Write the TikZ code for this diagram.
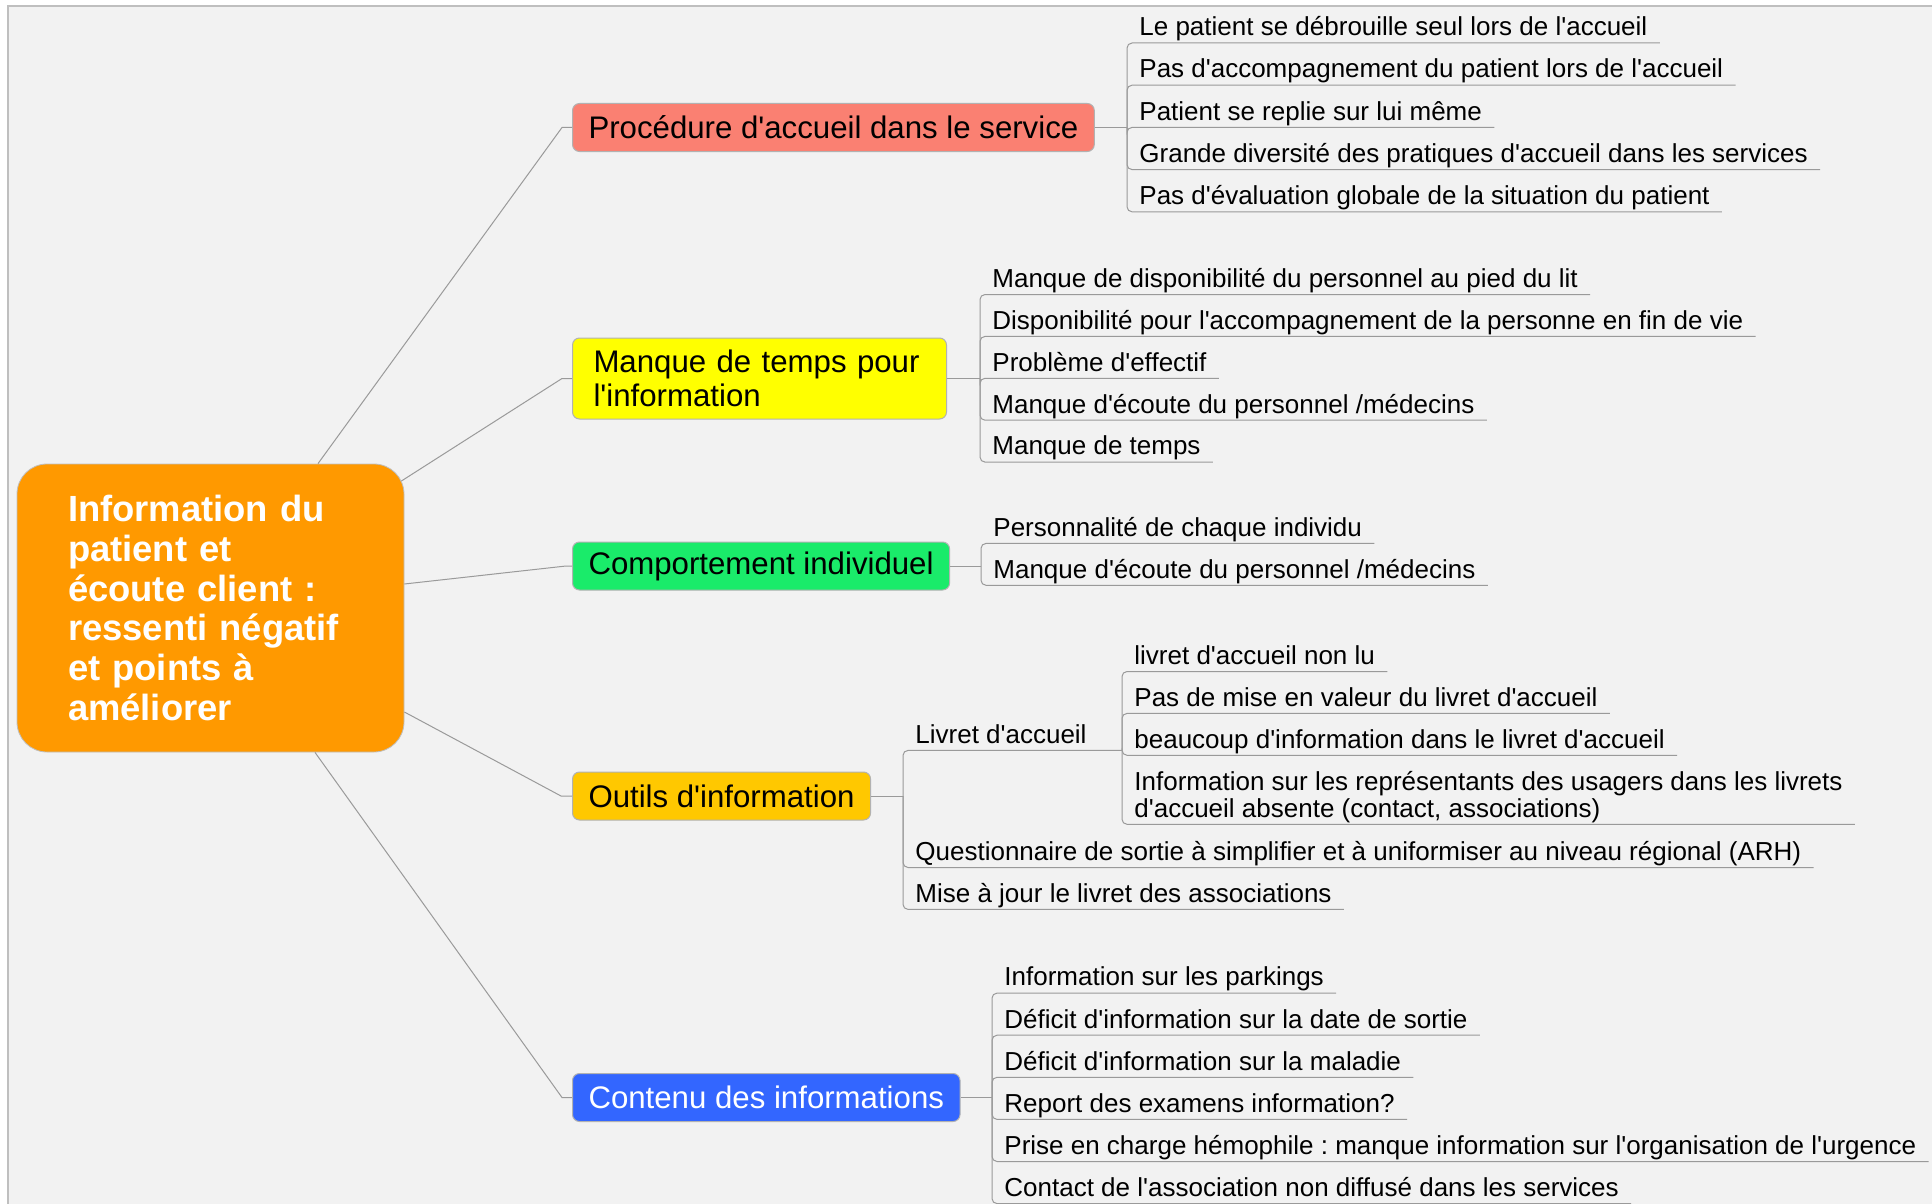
\documentclass[tikz,border=0pt]{standalone}
\usepackage{fontspec}
\setmainfont{Liberation Sans}[Ligatures=TeXOff]
\usetikzlibrary{calc,positioning}
\definecolor{bgray}{HTML}{F2F2F2}
\definecolor{lgray}{HTML}{9A9A9A}
\definecolor{rootorange}{HTML}{FF9900}
\definecolor{procred}{HTML}{FA8072}
\definecolor{manqyellow}{HTML}{FFFF00}
\definecolor{compgreen}{HTML}{1AEB6A}
\definecolor{outigold}{HTML}{FFC800}
\definecolor{contblue}{HTML}{3366FF}
\frenchspacing

\begin{document}
\begin{tikzpicture}[x=0.5pt, y=-0.5pt,
    link/.style={lgray, line width=0.5pt},
    rc/.style={link, rounded corners=2.5pt},
    branch/.style={draw=black!30, line width=0.5pt, rounded corners=3.5pt, anchor=west,
        inner xsep=8pt, minimum height=24pt, font=\fontsize{15.6}{17.2}\selectfont},
    leaf/.style={anchor=south west, inner xsep=6pt, inner ysep=0.8pt, text depth=2.6pt,
        font=\fontsize{13}{13.5}\selectfont}]
        \useasboundingbox (0,0) rectangle (1932,1204);
        \fill[white] (0,0) rectangle (1932,1204);
        \fill[bgray] (8,6) rectangle (1932,1204);
        \draw[black!25, line width=1pt] (8,1204) -- (8,6) -- (1932,6);

        % central topic
        \node[draw=black!25, fill=rootorange, rounded corners=15pt, minimum width=193.5pt, minimum height=144pt,
            text width=142.5pt, align=left, text=white, font=\fontsize{18.2}{19.9}\selectfont\bfseries]
            (root) at (210.5,608) {Information du\\patient et\\écoute client :\\ressenti négatif\\et points à\\améliorer};

        % main branches
        \node[branch, fill=procred] (proc) at (572,127.5) {Procédure d'accueil dans le service};
        \node[branch, fill=manqyellow, text width=166pt, inner xsep=10.5pt, align=left, minimum height=40.5pt]
            (manq) at (572,378.5) {Manque de temps pour\\l'information};
        \node[branch, fill=compgreen] (comp) at (572,566) {Comportement individuel};
        \node[branch, fill=outigold] (outi) at (572,796) {Outils d'information};
        \node[branch, fill=contblue, text=white] (cont) at (572,1097.5) {Contenu des informations};

        \draw[link] ($(root.north)+(107.5,0)$) -- ($(proc.west)+(-10,0)$) -- (proc.west);
        \draw[link] ($(root.east)+(-3,-127)$) -- ($(manq.west)+(-10,0)$) -- (manq.west);
        \draw[link] ($(root.east)+(0,-24)$) -- ($(comp.west)+(-6,0)$) -- (comp.west);
        \draw[link] ($(root.east)+(0,104)$) -- ($(outi.west)+(-11,0)$) -- (outi.west);
        \draw[link] ($(root.south)+(104.5,0)$) -- ($(cont.west)+(-10,0)$) -- (cont.west);

        % Procedure d'accueil
        \foreach \t [count=\i] in {Le patient se débrouille seul lors de l'accueil, Pas d'accompagnement du patient lors de l'accueil,
            Patient se replie sur lui même, Grande diversité des pratiques d'accueil dans les services,
            Pas d'évaluation globale de la situation du patient}
            \node[leaf] (p\i) at (1127,43+42.2*\i-42.2) {\t};
        \coordinate (pj) at (proc.east -| p1.south west);
        \draw[link] (proc.east) -- (pj);
        \foreach \i in {1,...,5} \draw[rc] (pj) |- (p\i.south east);

        % Manque de temps
        \foreach \t [count=\i] in {Manque de disponibilité du personnel au pied du lit,
            Disponibilité pour l'accompagnement de la personne en fin de vie, Problème d'effectif,
            Manque d'écoute du personnel /médecins, Manque de temps}
            \node[leaf] (m\i) at (980,294.5+41.9*\i-41.9) {\t};
        \coordinate (mj) at (manq.east -| m1.south west);
        \draw[link] (manq.east) -- (mj);
        \foreach \i in {1,...,5} \draw[rc] (mj) |- (m\i.south east);

        % Comportement
        \node[leaf] (c1) at (981,543.4) {Personnalité de chaque individu};
        \node[leaf] (c2) at (981,585.3) {Manque d'écoute du personnel /médecins};
        \coordinate (cj) at (comp.east -| c1.south west);
        \draw[link] (comp.east) -- (cj);
        \foreach \i in {1,2} \draw[rc] (cj) |- (c\i.south east);

        % Outils d'information
        \node[leaf] (livret) at (903,750.4) {Livret d'accueil};
        \node[leaf] (ques) at (903,867.5) {Questionnaire de sortie à simplifier et à uniformiser au niveau régional (ARH)};
        \node[leaf] (mise) at (903,909.4) {Mise à jour le livret des associations};
        \foreach \t [count=\i] in {livret d'accueil non lu, Pas de mise en valeur du livret d'accueil,
            beaucoup d'information dans le livret d'accueil}
            \node[leaf] (l\i) at (1122,671.5+41.9*\i-41.9) {\t};
        \node[leaf] (l4) at (1122,824.3) {\begin{tabular}[b]{@{}l@{}}Information sur les représentants des usagers dans les livrets\\d'accueil absente (contact, associations)\end{tabular}};
        \coordinate (oj) at (outi.east -| livret.south west);
        \coordinate (lj) at (livret.south -| l1.south west);
        \draw[link] (outi.east) -- (oj);
        \draw[rc] (oj) |- (lj);
        \foreach \n in {ques,mise} \draw[rc] (oj) |- (\n.south east);
        \foreach \i in {1,...,4} \draw[rc] (lj) |- (l\i.south east);

        % Contenu des informations
        \foreach \t [count=\i] in {Information sur les parkings, Déficit d'information sur la date de sortie,
            Déficit d'information sur la maladie, Report des examens information?,
            Prise en charge hémophile : manque information sur l'organisation de l'urgence,
            Contact de l'association non diffusé dans les services}
            \node[leaf] (n\i) at (992,993.1+42.1*\i-42.1) {\t};
        \coordinate (nj) at (cont.east -| n1.south west);
        \draw[link] (cont.east) -- (nj);
        \foreach \i in {1,...,6} \draw[rc] (nj) |- (n\i.south east);
    \end{tikzpicture}
\end{document}
